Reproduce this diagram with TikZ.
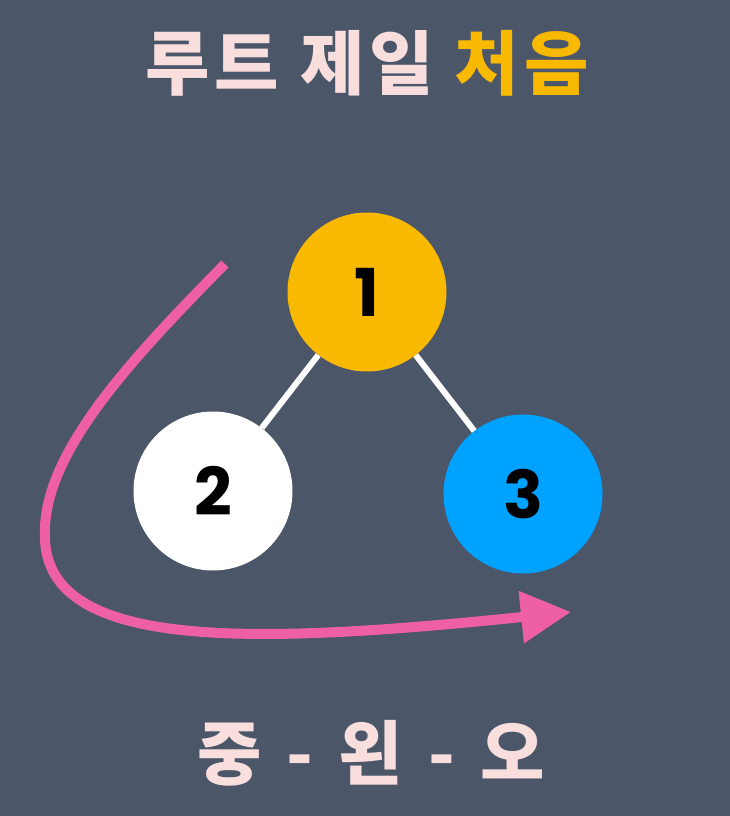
\documentclass[tikz,border=0pt]{standalone}
\usepackage{fontspec}
\setmainfont{Poppins}
\newfontfamily\kr{Noto Sans CJK KR}
\usetikzlibrary{arrows.meta}
\definecolor{bg}{RGB}{75,86,105}
\definecolor{ttl}{RGB}{249,222,222}
\definecolor{gold}{RGB}{249,185,0}
\definecolor{sky}{RGB}{0,162,255}
\definecolor{pinkarr}{RGB}{238,95,168}
\tikzset{
  treenode/.style={circle, minimum size=159pt, inner sep=0pt, text=black,
    font=\fontsize{66}{66}\selectfont\bfseries},
  edge/.style={white, line width=6pt},
  title/.style={text=ttl, font=\kr\bfseries\fontsize{70}{70}\selectfont, inner sep=0pt},
  walk/.style={pinkarr, line width=10pt, -{Triangle[length=50pt,width=50pt]}}
}
\begin{document}
\begin{tikzpicture}[x=1pt,y=-1pt]
\useasboundingbox (0,0) rectangle (730,816);
\fill[bg] (0,0) rectangle (730,816);
\node[title] (head) at (367,63) {\addfontfeatures{LetterSpace=7}루트 제일 \textcolor{gold}{처음}};
\node[treenode, fill=gold] (n1) at (367,292) {1};
\node[treenode, fill=white] (n2) at (213,491) {2};
\node[treenode, fill=sky] (n3) at (523,494) {3};
\draw[edge] (n1) -- (n2);
\draw[edge] (n1) -- (n3);
\coordinate (s) at (225,264);
\coordinate (m) at (45,540);
\coordinate (e) at (571,612);
\draw[walk] (s) .. controls (120,370) and (40,460) .. (m) .. controls (50,650) and (250,645) .. (e);
\node[title] (foot) at (371,753) {중\hspace{9pt} - \hspace{9pt}왼\hspace{9pt} - \hspace{9pt}오};
\end{tikzpicture}
\end{document}
